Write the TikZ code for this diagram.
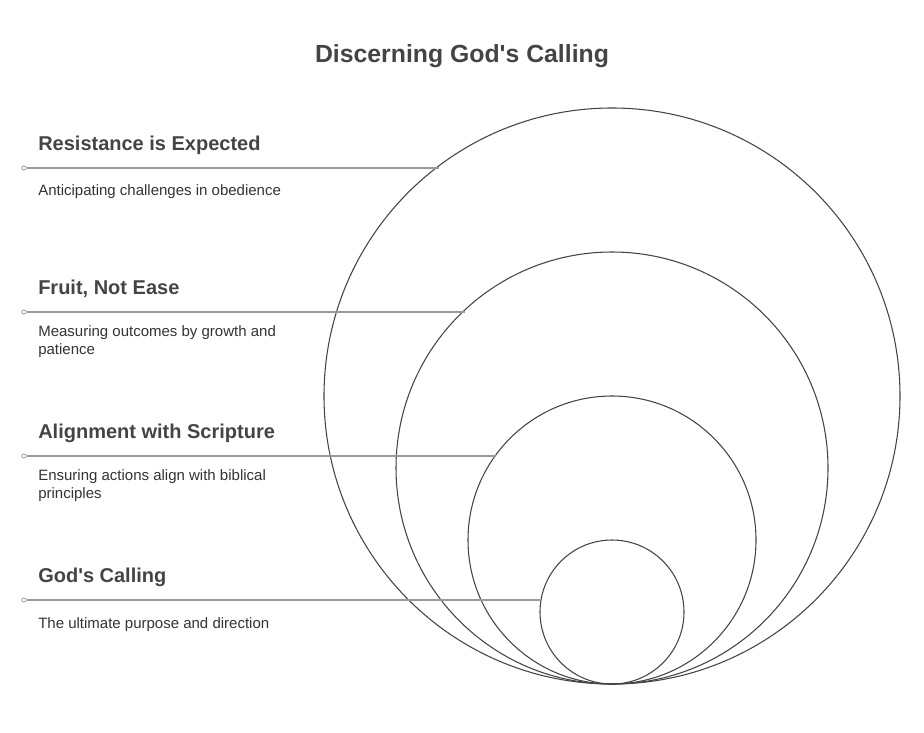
\documentclass[tikz,border=0pt]{standalone}
\usepackage{fontspec}
\setmainfont{Liberation Sans}
\definecolor{inkdark}{HTML}{444444}
\definecolor{inktext}{HTML}{333333}
\definecolor{leadgray}{HTML}{999999}
\tikzset{
  ring/.style={circle,draw=inkdark,line width=0.8pt,inner sep=0pt,outer sep=0pt},
  leader/.style={draw=leadgray,line width=1.1pt},
  tickdot/.style={circle,draw=leadgray,fill=white,line width=0.6pt,inner sep=0pt,minimum size=3.2pt},
  heading/.style={anchor=west,font=\fontsize{15}{18}\selectfont\bfseries,text=inkdark,inner sep=0pt},
  blurb/.style={anchor=west,align=left,font=\fontsize{11.25}{13.5}\selectfont,text=inktext,inner sep=0pt}
}
\begin{document}
\begin{tikzpicture}[x=0.75pt,y=-0.75pt]
\useasboundingbox (0,0) rectangle (924,732);
\node[font=\fontsize{18.6}{22}\selectfont\bfseries,text=inkdark] (title) at (462,56) {Discerning God\textquotesingle s Calling};
\node[ring,minimum size=432pt] (outer) at (612,396) {};
\node[ring,minimum size=324pt] (fruit) at (612,468) {};
\node[ring,minimum size=216pt] (align) at (612,540) {};
\node[ring,minimum size=108pt] (core) at (612,612) {};
\node[tickdot] (d1) at (24,168) {};
\node[tickdot] (d2) at (24,312) {};
\node[tickdot] (d3) at (24,456) {};
\node[tickdot] (d4) at (24,600) {};
\draw[leader] (d1.east) -- (d1 -| outer.127.67);
\draw[leader] (d2.east) -- (d2 -| fruit.133.76);
\draw[leader] (d3.east) -- (d3 -| align.144.31);
\draw[leader] (d4.east) -- (d4 -| core.170.41);
\node[heading] (h1) at (38,145) {Resistance is Expected};
\node[blurb] (b1) at (38,192) {Anticipating challenges in obedience};
\node[heading] (h2) at (38,289) {Fruit, Not Ease};
\node[blurb] (b2) at (38,342) {Measuring outcomes by growth and\\patience};
\node[heading] (h3) at (38,433) {Alignment with Scripture};
\node[blurb] (b3) at (38,486) {Ensuring actions align with biblical\\principles};
\node[heading] (h4) at (38,577) {God\textquotesingle s Calling};
\node[blurb] (b4) at (38,625) {The ultimate purpose and direction};
\end{tikzpicture}
\end{document}
